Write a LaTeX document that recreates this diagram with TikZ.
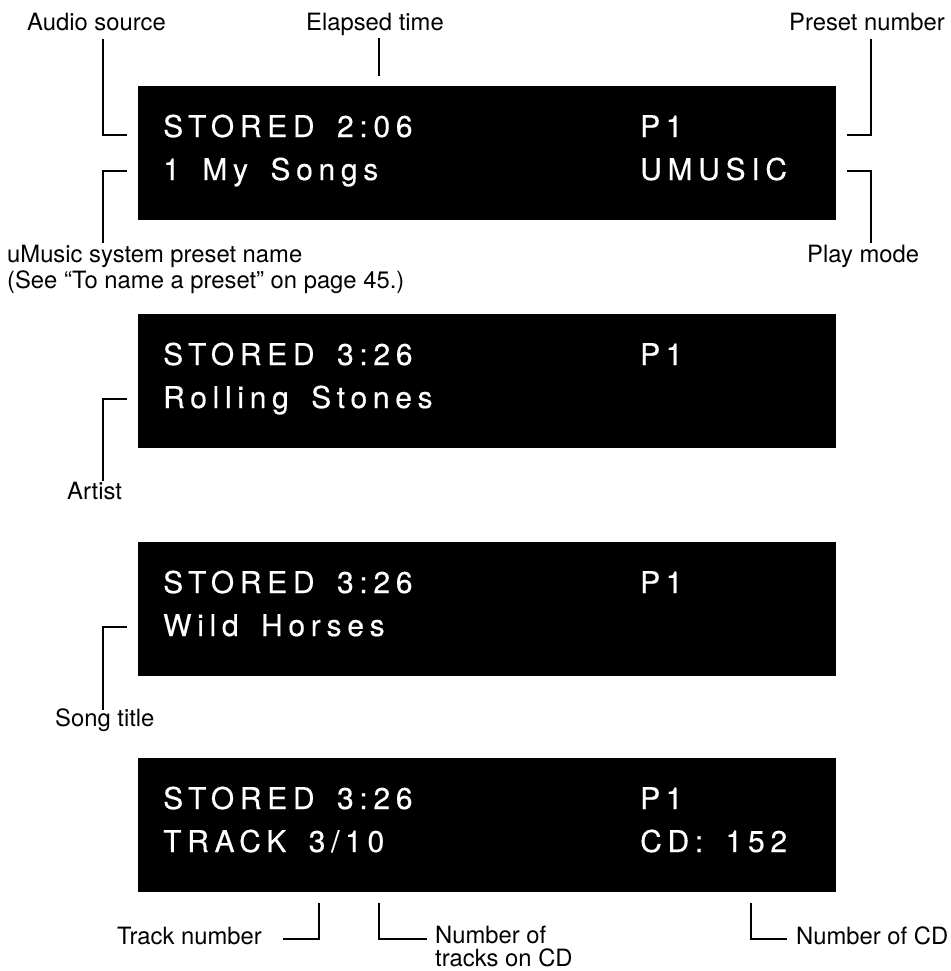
\documentclass[tikz,border=0pt]{standalone}
\usepackage{fontspec}
\setmainfont{TeX Gyre Heros}
\newfontfamily\lcdfont[LetterSpace=19,WordSpace=1.6,FakeBold=0.4]{TeX Gyre Heros}
\begin{document}
\begin{tikzpicture}[x=1pt,y=-1pt,
  lcd/.style={fill=black,draw=none,minimum width=698pt,minimum height=134pt,anchor=north west,inner sep=0pt,outer sep=0pt},
  lcdtext/.style={text=white,font=\lcdfont\fontsize{30}{36}\selectfont,anchor=base west,inner sep=0pt},
  lbl/.style={font=\fontsize{23.8}{26}\selectfont,anchor=base west,inner sep=0pt},
  lead/.style={line width=2pt}]
\useasboundingbox (0,0) rectangle (950,971);

% displays
\node[lcd] (d1) at (138,86) {};
\node[lcd] (d2) at (138,314) {};
\node[lcd] (d3) at (138,542) {};
\node[lcd] (d4) at (138,758) {};

\node[lcdtext] (t1a) at (163,137) {STORED 2:06};
\node[lcdtext] (t1b) at (163,180) {1 My Songs};
\node[lcdtext] (t1c) at (640,137) {P1};
\node[lcdtext] (t1d) at (640,180) {UMUSIC};

\node[lcdtext] (t2a) at (163,365) {STORED 3:26};
\node[lcdtext] (t2b) at (163,408) {Rolling Stones};
\node[lcdtext] (t2c) at (640,365) {P1};

\node[lcdtext] (t3a) at (163,593) {STORED 3:26};
\node[lcdtext] (t3b) at (163,636) {Wild Horses};
\node[lcdtext] (t3c) at (640,593) {P1};

\node[lcdtext] (t4a) at (163,809) {STORED 3:26};
\node[lcdtext] (t4b) at (163,852) {TRACK 3/10};
\node[lcdtext] (t4c) at (640,809) {P1};
\node[lcdtext] (t4d) at (640,852) {CD: 152};

% labels
\node[lbl] (audio) at (27,31) {Audio source};
\node[lbl] (elapsed) at (306,31) {Elapsed time};
\node[lbl] (preset) at (789,31) {Preset number};
\node[lbl] (umusic) at (7,262) {uMusic system preset name};
\node[lbl] (umusicb) at (7,288) {(See “To name a preset” on page 45.)};
\node[lbl] (playmode) at (807,262) {Play mode};
\node[lbl] (artist) at (67,499) {Artist};
\node[lbl] (song) at (55,726) {Song title};
\node[lbl] (tracknum) at (117,944) {Track number};
\node[lbl] (numtracks) at (435,943) {Number of};
\node[lbl] (numtracksb) at (435,966) {tracks on CD};
\node[lbl] (numcd) at (796,944) {Number of CD};

% connector end points
\coordinate (audio-a) at (103,39);   \coordinate (audio-b) at (127,135);
\coordinate (elap-a) at (379,38);    \coordinate (elap-b) at (379,76);
\coordinate (pres-a) at (871,39);    \coordinate (pres-b) at (847,135);
\coordinate (umus-a) at (127,171);   \coordinate (umus-b) at (103,243);
\coordinate (play-a) at (847,171);   \coordinate (play-b) at (871,243);
\coordinate (art-a) at (127,399);    \coordinate (art-b) at (103,481);
\coordinate (song-a) at (127,627);   \coordinate (song-b) at (103,710);
\coordinate (trk-a) at (283,939);    \coordinate (trk-b) at (319,903);
\coordinate (ntr-a) at (379,903);    \coordinate (ntr-b) at (427,939);
\coordinate (ncd-a) at (751,903);    \coordinate (ncd-b) at (787,939);

\draw[lead] (audio-a) |- (audio-b);
\draw[lead] (elap-a) -- (elap-b);
\draw[lead] (pres-a) |- (pres-b);
\draw[lead] (umus-a) -| (umus-b);
\draw[lead] (play-a) -| (play-b);
\draw[lead] (art-a) -| (art-b);
\draw[lead] (song-a) -| (song-b);
\draw[lead] (trk-a) -| (trk-b);
\draw[lead] (ntr-a) |- (ntr-b);
\draw[lead] (ncd-a) |- (ncd-b);
\end{tikzpicture}
\end{document}
